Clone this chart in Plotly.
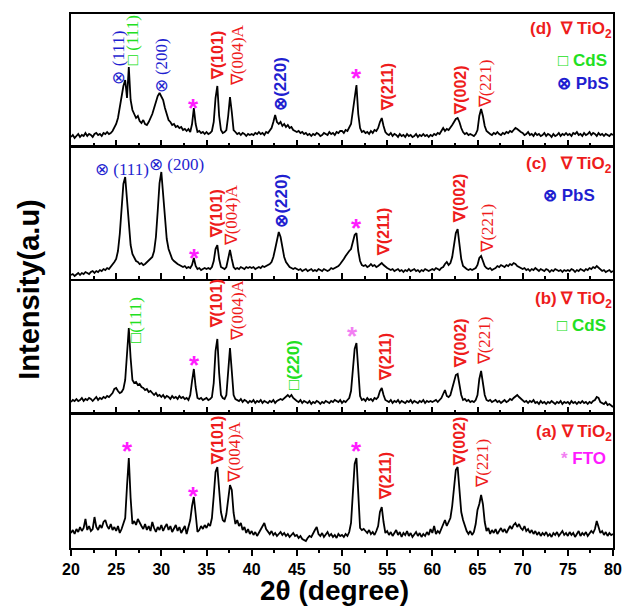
import plotly.graph_objects as go

# ---------------- data (heights in panel pixels) -------------
two_theta = [round(20 + 0.2 * i, 1) for i in range(301)]

intensity_d = [
    9, 11, 8, 10, 12, 9, 11, 10, 13, 10, 12, 11, 9, 12, 13, 11, 12, 10, 13, 12, 14, 12, 13, 15, 18,
    22, 28, 38, 52, 60, 66, 48, 79, 46, 36, 31, 28, 30, 25, 23, 26, 22, 21, 24, 28, 32, 38, 45, 50, 53,
    50, 46, 38, 31, 26, 24, 21, 22, 19, 20, 18, 19, 16, 17, 15, 17, 14, 22, 38, 22, 14, 15, 13, 14, 12,
    14, 12, 13, 15, 24, 48, 60, 30, 16, 13, 14, 16, 30, 49, 34, 16, 14, 12, 13, 11, 13, 12, 10, 12, 11,
    12, 11, 13, 12, 14, 12, 13, 11, 14, 13, 15, 18, 24, 31, 24, 22, 24, 20, 22, 19, 21, 18, 19, 16, 15,
    14, 15, 13, 14, 12, 13, 11, 12, 10, 12, 11, 13, 12, 10, 11, 13, 12, 11, 14, 12, 13, 11, 14, 13, 15,
    15, 13, 16, 15, 18, 22, 35, 50, 61, 32, 18, 14, 15, 13, 14, 12, 15, 13, 16, 15, 18, 24, 28, 20, 14,
    12, 11, 13, 10, 12, 11, 9, 12, 10, 11, 9, 12, 10, 11, 9, 10, 12, 9, 11, 10, 12, 10, 11, 9, 11,
    10, 12, 11, 13, 12, 15, 18, 15, 17, 16, 18, 21, 24, 27, 28, 24, 18, 14, 12, 13, 11, 12, 11, 10, 12,
    16, 30, 37, 30, 20, 15, 13, 12, 11, 13, 12, 14, 12, 11, 13, 12, 14, 13, 15, 14, 16, 18, 17, 15, 14,
    13, 11, 12, 14, 11, 12, 10, 13, 11, 12, 10, 11, 13, 10, 12, 11, 9, 12, 10, 11, 13, 10, 12, 11, 13,
    11, 12, 10, 13, 12, 14, 11, 12, 10, 13, 11, 12, 14, 11, 13, 12, 10, 13, 11, 12, 10, 12, 11, 10, 12,
    11,
]

intensity_c = [
    4, 5, 3, 5, 6, 4, 6, 5, 7, 6, 5, 7, 8, 6, 8, 7, 9, 8, 10, 9, 11, 10, 12, 14, 17,
    20, 28, 45, 70, 95, 102, 80, 52, 34, 25, 21, 18, 17, 15, 16, 14, 15, 17, 18, 20, 22, 28, 42, 68, 96,
    107, 85, 56, 40, 30, 24, 20, 18, 16, 15, 14, 13, 12, 13, 11, 12, 11, 14, 21, 13, 10, 11, 9, 10, 11,
    10, 11, 10, 12, 18, 30, 34, 20, 12, 11, 10, 12, 20, 29, 20, 12, 10, 11, 10, 12, 11, 10, 12, 11, 12,
    11, 12, 10, 11, 12, 11, 13, 12, 13, 14, 15, 17, 22, 30, 40, 47, 42, 30, 22, 17, 14, 12, 11, 10, 11,
    10, 9, 10, 8, 9, 10, 8, 9, 10, 8, 9, 8, 10, 9, 8, 10, 9, 8, 9, 11, 10, 11, 12, 13, 15,
    17, 20, 23, 26, 28, 30, 36, 44, 46, 28, 18, 14, 13, 14, 12, 13, 15, 13, 14, 12, 13, 15, 16, 14, 12,
    11, 10, 9, 10, 8, 9, 10, 8, 9, 7, 9, 8, 10, 8, 9, 10, 8, 9, 7, 9, 8, 10, 9, 8, 9,
    10, 9, 11, 10, 9, 11, 12, 15, 17, 14, 16, 22, 32, 46, 50, 36, 20, 13, 11, 10, 9, 10, 9, 10, 11,
    14, 21, 23, 18, 13, 11, 10, 11, 9, 10, 11, 13, 12, 14, 13, 12, 14, 13, 15, 14, 16, 15, 13, 12, 11,
    10, 11, 9, 10, 8, 10, 9, 11, 9, 8, 10, 9, 8, 10, 9, 7, 9, 8, 10, 9, 8, 9, 7, 9, 8,
    9, 8, 10, 9, 7, 9, 8, 10, 9, 8, 10, 9, 11, 10, 12, 11, 13, 11, 9, 8, 9, 7, 8, 9, 7,
    8,
]

intensity_b = [
    11, 13, 12, 14, 12, 13, 15, 12, 14, 13, 15, 14, 12, 14, 16, 13, 15, 14, 16, 15, 17, 16, 18, 20, 24,
    25, 22, 20, 21, 24, 33, 60, 85, 55, 33, 30, 31, 28, 29, 26, 25, 23, 24, 21, 22, 20, 18, 20, 17, 18,
    16, 18, 15, 17, 16, 14, 17, 15, 16, 14, 17, 15, 16, 14, 15, 13, 18, 32, 44, 26, 15, 14, 15, 13, 14,
    15, 13, 14, 16, 30, 62, 74, 40, 18, 15, 14, 18, 40, 65, 42, 18, 14, 13, 12, 14, 11, 13, 12, 10, 12,
    11, 13, 10, 12, 11, 13, 10, 12, 11, 10, 12, 11, 13, 10, 12, 13, 14, 13, 15, 17, 18, 16, 18, 15, 13,
    12, 11, 13, 10, 12, 11, 10, 12, 9, 11, 10, 12, 11, 9, 11, 10, 12, 11, 10, 12, 11, 13, 12, 11, 13,
    10, 12, 11, 13, 15, 22, 42, 64, 70, 38, 17, 13, 14, 12, 15, 13, 14, 12, 15, 14, 16, 22, 25, 18, 13,
    12, 11, 13, 10, 12, 11, 13, 10, 12, 11, 10, 12, 11, 13, 10, 12, 11, 10, 12, 11, 13, 10, 12, 11, 12,
    11, 12, 13, 11, 13, 15, 19, 23, 17, 16, 18, 24, 32, 38, 39, 30, 18, 13, 14, 12, 13, 11, 12, 11, 13,
    18, 34, 42, 30, 18, 13, 12, 13, 11, 12, 13, 11, 12, 10, 12, 13, 11, 12, 14, 13, 15, 17, 18, 16, 14,
    13, 11, 12, 10, 12, 11, 13, 10, 11, 9, 12, 10, 11, 9, 11, 10, 12, 10, 9, 11, 10, 12, 9, 11, 10,
    11, 9, 12, 10, 11, 9, 11, 10, 12, 10, 11, 9, 11, 10, 12, 13, 16, 15, 11, 10, 9, 11, 8, 9, 7,
    6,
]

intensity_a = [
    15, 18, 14, 19, 16, 21, 17, 20, 29, 18, 22, 17, 19, 31, 21, 18, 23, 20, 26, 28, 22, 19, 24, 18, 21,
    17, 22, 15, 19, 24, 30, 62, 90, 50, 24, 27, 23, 29, 25, 22, 19, 24, 18, 22, 17, 26, 20, 16, 21, 18,
    23, 17, 21, 24, 18, 22, 16, 20, 23, 17, 21, 15, 19, 22, 14, 20, 28, 42, 51, 34, 16, 18, 22, 19, 23,
    20, 24, 22, 30, 52, 76, 81, 60, 36, 28, 26, 34, 52, 63, 58, 35, 24, 28, 22, 25, 18, 21, 15, 19, 14,
    17, 13, 16, 12, 15, 18, 22, 25, 19, 16, 14, 17, 13, 15, 12, 14, 16, 13, 15, 12, 14, 11, 13, 15, 12,
    13, 10, 12, 9, 8, 7, 10, 12, 11, 15, 18, 21, 14, 12, 15, 11, 13, 16, 12, 14, 11, 13, 10, 14, 12,
    13, 11, 14, 12, 16, 25, 55, 84, 90, 48, 20, 18, 19, 17, 15, 18, 14, 16, 13, 17, 22, 36, 41, 26, 15,
    17, 13, 16, 12, 15, 18, 13, 16, 11, 15, 13, 17, 12, 15, 11, 14, 16, 12, 15, 11, 14, 12, 16, 13, 19,
    15, 22, 14, 17, 15, 20, 24, 28, 22, 26, 30, 42, 62, 78, 81, 60, 36, 28, 22, 17, 14, 17, 13, 16, 24,
    38, 44, 53, 44, 26, 17, 20, 14, 18, 15, 19, 14, 17, 20, 16, 19, 15, 18, 22, 19, 23, 25, 21, 24, 20,
    18, 22, 17, 19, 15, 18, 14, 17, 13, 16, 12, 15, 13, 16, 12, 14, 11, 15, 13, 16, 12, 14, 17, 13, 15,
    12, 16, 13, 15, 11, 14, 17, 12, 15, 13, 16, 12, 14, 17, 15, 19, 27, 22, 15, 17, 13, 16, 12, 15, 13,
    14,
]

x_ticks = [20, 25, 30, 35, 40, 45, 50, 55, 60, 65, 70, 75, 80]

for arr in (intensity_d, intensity_c, intensity_b, intensity_a):
    assert len(arr) == len(two_theta), len(arr)

# ---------------- styling ----------------
RED = "#ee1c1c"
BLUE = "#1f1fd0"
GREEN = "#22e022"
MAGENTA = "#ff1cff"
PINK = "#f27ff2"
SANS = "Liberation Sans"
SERIF = "Liberation Serif"

L, R, T, B = 71, 10, 14, 60
W, H = 632, 608
PW = W - L - R

domains = [[0.7528, 1.0], [0.5037, 0.7509], [0.2528, 0.5], [0.0, 0.2509]]
yranges = [132, 132, 132, 134]
series = [intensity_d, intensity_c, intensity_b, intensity_a]

fig = go.Figure()
layout = {}
for i, vals in enumerate(series, start=1):
    sx = "" if i == 1 else str(i)
    fig.add_trace(go.Scatter(
        x=two_theta, y=vals, xaxis="x" + sx, yaxis="y" + sx, mode="lines",
        line=dict(color="black", width=1.8), showlegend=False, hoverinfo="skip"))
    tdir = "outside" if i == 4 else "inside"
    layout["xaxis" + sx] = dict(
        domain=[0, 1], range=[20, 80], anchor="y" + sx,
        showline=True, linecolor="black", linewidth=2, mirror=True,
        ticks=tdir, ticklen=6, tickwidth=1.5, tickcolor="black",
        tickvals=x_ticks, ticktext=[str(v) for v in x_ticks],
        showticklabels=(i == 4),
        tickfont=dict(family=SANS, size=16, color="black", weight="bold"),
        minor=dict(dtick=2.5, tick0=20, ticks=tdir, ticklen=3, tickwidth=1.5, tickcolor="black"),
        showgrid=False, zeroline=False, fixedrange=True)
    layout["yaxis" + sx] = dict(
        domain=domains[i - 1], range=[0, yranges[i - 1]], anchor="x" + sx,
        showline=True, linecolor="black", linewidth=2, mirror=True,
        ticks="", showticklabels=False, showgrid=False, zeroline=False, fixedrange=True)

ann = []


def ref(i):
    sx = "" if i == 1 else str(i)
    return "x" + sx, "y" + sx


def peak(i, text, x, y, color, serif=False, angle=-90, size=16):
    xr, yr = ref(i)
    ann.append(dict(
        text=text, x=x, y=y, xref=xr, yref=yr, showarrow=False, textangle=angle,
        xanchor="center", yanchor="bottom" if angle != 0 else "middle",
        font=dict(family=SERIF if serif else SANS, size=17 if serif else size,
                  color=color, weight="normal" if serif else "bold")))


def star(i, x, y, color=MAGENTA):
    xr, yr = ref(i)
    ann.append(dict(text="*", x=x, y=y - 6, xref=xr, yref=yr, showarrow=False,
                    xanchor="center", yanchor="middle",
                    font=dict(family=SANS, size=26, color=color, weight="bold")))


def legend(i, text, xpx, y, color, size=17):
    _, yr = ref(i)
    ann.append(dict(text=text, x=(xpx - L) / PW, y=y, xref="paper", yref=yr,
                    showarrow=False, xanchor="right", yanchor="middle",
                    font=dict(family=SANS, size=size, color=color, weight="bold")))


# panel (d)
peak(1, "⊗ (111)", 25.15, 59, BLUE, serif=True)
peak(1, "□ (111)", 26.78, 79, GREEN, serif=True)
peak(1, "⊗ (200)", 30.05, 51, BLUE, serif=True)
star(1, 33.6, 44)
peak(1, "∇(101)", 36.23, 64, RED)
peak(1, "∇(004)A", 38.4, 58, RED, serif=True)
peak(1, "⊗(220)", 43.12, 33, BLUE, size=17)
star(1, 51.55, 74)
peak(1, "∇(211)", 55.03, 33, RED)
peak(1, "∇(002)", 63.09, 29, RED)
peak(1, "∇(221)", 65.92, 36, RED, serif=True)
legend(1, "(d)  ∇ TiO<sub>2</sub>", 623, 116, RED)
legend(1, "□ CdS", 618, 86, GREEN)
legend(1, "⊗ PbS", 620, 63, BLUE)

# panel (c)
peak(2, "⊗ (111)", 25.66, 110, BLUE, serif=True, angle=0)
peak(2, "⊗ (200)", 31.65, 115, BLUE, serif=True, angle=0)
star(2, 33.69, 27)
peak(2, "∇(101)", 36.15, 39, RED)
peak(2, "∇(004)A", 37.75, 31, RED, serif=True)
peak(2, "⊗(220)", 43.2, 49, BLUE, size=17)
star(2, 51.55, 57)
peak(2, "∇(211)", 54.55, 21, RED)
peak(2, "∇(002)", 63.01, 54, RED)
peak(2, "∇(221)", 66.06, 24, RED, serif=True)
legend(2, "(c)   ∇ TiO<sub>2</sub>", 623, 114, RED)
legend(2, "⊗ PbS", 606, 84, BLUE)

# panel (b)
peak(3, "□(111)", 27.08, 68, GREEN, serif=True)
star(3, 33.69, 54)
peak(3, "∇(101)", 36.15, 83, RED)
peak(3, "∇(004)A", 38.4, 70, RED, serif=True)
peak(3, "□(220)", 44.58, 21, GREEN, size=17)
star(3, 51.11, 83, PINK)
peak(3, "∇(211)", 54.81, 30, RED)
peak(3, "∇(002)", 63.09, 43, RED)
peak(3, "∇(221)", 65.81, 46, RED, serif=True)
legend(3, "(b) ∇ TiO<sub>2</sub>", 623, 113, RED)
legend(3, "□ CdS", 617, 88, GREEN)

# panel (a)
star(4, 26.24, 103)
star(4, 33.61, 58)
peak(4, "∇(101)", 36.23, 81, RED)
peak(4, "∇(004)A", 38.04, 63, RED, serif=True)
star(4, 51.55, 103)
peak(4, "∇(211)", 54.81, 46, RED)
peak(4, "∇(002)", 63.01, 80, RED)
peak(4, "∇(221)", 65.52, 58, RED, serif=True)
legend(4, "(a) ∇ TiO<sub>2</sub>", 623, 115, RED)
legend(4, "<span style='color:#f27ff2'>*</span> FTO", 617, 90, MAGENTA)

# axis titles
ann.append(dict(text="2θ (degree)", x=(339 - L) / PW, y=(548 - 590) / 534,
                xref="paper", yref="paper", showarrow=False, xanchor="center", yanchor="middle",
                font=dict(family=SANS, size=28, color="black", weight="bold")))
ann.append(dict(text="Intensity(a.u)", x=(28 - L) / PW, y=(548 - 290) / 534,
                xref="paper", yref="paper", showarrow=False, textangle=-90,
                xanchor="center", yanchor="middle",
                font=dict(family=SANS, size=29, color="black", weight="bold")))

fig.update_layout(
    width=W, height=H, margin=dict(l=L, r=R, t=T, b=B),
    paper_bgcolor="white", plot_bgcolor="white", annotations=ann, **layout)

fig.write_html("out.html")
